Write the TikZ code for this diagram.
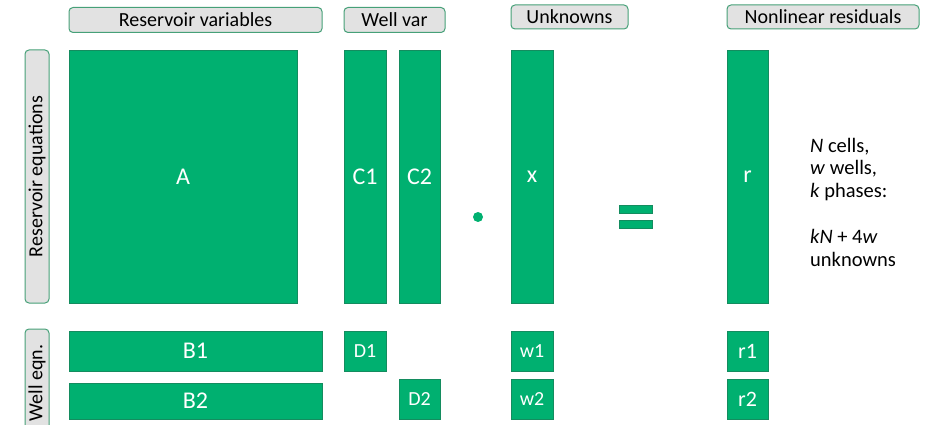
\documentclass[tikz,border=0pt]{standalone}
\usepackage{fontspec}
\setmainfont{Carlito}
\usetikzlibrary{positioning}

\definecolor{blkgreen}{RGB}{0,176,112}
\definecolor{blkedge}{RGB}{20,140,95}
\definecolor{hdrgrey}{RGB}{226,226,226}
\definecolor{hdredge}{RGB}{70,160,120}

\tikzset{
  blk/.style={draw=blkedge, line width=0.6pt, fill=blkgreen, text=white,
              inner sep=0pt, font=\fontsize{24}{28}\selectfont},
  smallblk/.style={blk, font=\fontsize{20}{24}\selectfont},
  hdr/.style={draw=hdredge, line width=1pt, fill=hdrgrey, rounded corners=4pt,
              inner sep=0pt, font=\fontsize{20}{24}\selectfont},
}

\begin{document}
\begin{tikzpicture}[x=1pt, y=-1pt]
        \useasboundingbox (0,0) rectangle (930,425);

        % column headers
        \node[hdr, minimum width=253, minimum height=25] (resvar) at (195.5,20) {Reservoir variables};
        \node[hdr, minimum width=101, minimum height=25] (wellvar) at (394.5,20) {Well var};
        \node[hdr, minimum width=117, minimum height=24] (unk) at (569.5,17) {Unknowns};
        \node[hdr, minimum width=192, minimum height=24] (resid) at (823,17) {Nonlinear residuals};

        % row headers
        \node[hdr, rotate=90, minimum width=253, minimum height=24] (reseq) at (37,176.5) {Reservoir equations};
        \node[hdr, rotate=90, minimum width=108, minimum height=24] (welleq) at (37,383) {Well eqn.};

        % reservoir rows
        \node[blk, minimum width=228, minimum height=253] (A) at (183,176.5) {A};
        \node[blk, minimum width=42, minimum height=253] (C1) at (365,176.5) {C1};
        \node[blk, minimum width=41, minimum height=253] (C2) at (419.5,176.5) {C2};
        \node[blk, minimum width=42, minimum height=253] (x) at (532,176.5) {x};
        \node[blk, minimum width=41, minimum height=253] (r) at (747.5,176.5) {r};

        % well rows
        \node[blk, minimum width=253, minimum height=40] (B1) at (195.5,351) {B1};
        \node[blk, minimum width=253, minimum height=36] (B2) at (195.5,401) {B2};
        \node[smallblk, minimum width=42, minimum height=40] (D1) at (365,351) {D1};
        \node[smallblk, minimum width=41, minimum height=40] (D2) at (419.5,399) {D2};
        \node[smallblk, minimum width=42, minimum height=40] (w1) at (532,351) {w1};
        \node[smallblk, minimum width=42, minimum height=40] (w2) at (532,399) {w2};
        \node[blk, minimum width=41, minimum height=40, font=\fontsize{22}{26}\selectfont] (r1) at (747.5,351) {r1};
        \node[blk, minimum width=41, minimum height=40, font=\fontsize{22}{26}\selectfont] (r2) at (747.5,399) {r2};

        % product and equals
        \node[circle, fill=blkgreen, inner sep=0pt, minimum size=10] (dot) at (478,217) {};
        \node[blk, line width=0.3pt, minimum width=33, minimum height=8] (eqtop) at (635.5,209) {};
        \node[blk, line width=0.3pt, minimum width=33, minimum height=8] (eqbot) at (635.5,224) {};

        % side note
        \node[anchor=north west, align=left, inner sep=0pt,
              font=\fontsize{20.5}{22.5}\selectfont] (note) at (810,138)
              {\textit{N} cells,\\ \textit{w} wells,\\ \textit{k} phases:\\[24pt]
               \textit{kN} + 4\textit{w}\\ unknowns};
\end{tikzpicture}
\end{document}
